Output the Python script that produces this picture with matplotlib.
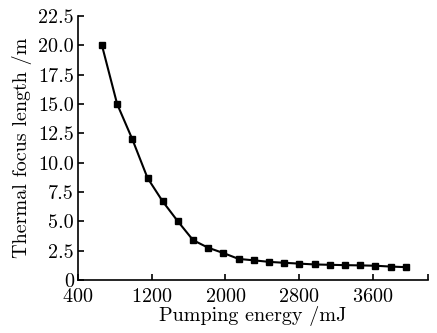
import matplotlib
matplotlib.use("Agg")
import matplotlib.pyplot as plt

# data
energy = [660, 825, 990, 1155, 1320, 1485, 1650, 1815, 1980, 2145, 2310,
          2475, 2640, 2805, 2970, 3135, 3300, 3465, 3630, 3795, 3960]
focus_len = [20.0, 15.0, 12.0, 8.7, 6.7, 5.0, 3.4, 2.75, 2.3, 1.8, 1.68,
             1.55, 1.47, 1.4, 1.33, 1.3, 1.27, 1.25, 1.22, 1.15, 1.1]
xticks = [400, 1200, 2000, 2800, 3600]
yticks = [0, 2.5, 5.0, 7.5, 10.0, 12.5, 15.0, 17.5, 20.0, 22.5]
yticklabels = ['0', '2.5', '5.0', '7.5', '10.0', '12.5', '15.0', '17.5', '20.0', '22.5']

plt.rcParams['font.family'] = 'cmr10'
plt.rcParams['axes.formatter.use_mathtext'] = True

fig = plt.figure(figsize=(4.37, 3.33), dpi=100)
ax = fig.add_axes([0.1785, 0.159, 0.8005, 0.793])

ax.plot(energy, focus_len, color='black', lw=1.5, marker='s', markersize=4.5)

ax.set_xlim(400, 4200)
ax.set_ylim(0, 22.5)
ax.set_xticks(xticks)
ax.set_xticks([4200], minor=True)
ax.set_yticks(yticks)
ax.set_yticklabels(yticklabels)
ax.tick_params(which='both', direction='in', length=4, width=1.2, labelsize=14.5)
ax.tick_params(axis='x', pad=6)
ax.tick_params(axis='y', pad=3)
ax.spines['top'].set_visible(False)
ax.spines['right'].set_visible(False)
for s in ['left', 'bottom']:
    ax.spines[s].set_linewidth(1.2)

ax.set_xlabel('Pumping energy /mJ', fontsize=14.5, labelpad=0)
ax.set_ylabel('Thermal focus length /m', fontsize=14.5, labelpad=4)

fig.savefig('out.png', dpi=100)
